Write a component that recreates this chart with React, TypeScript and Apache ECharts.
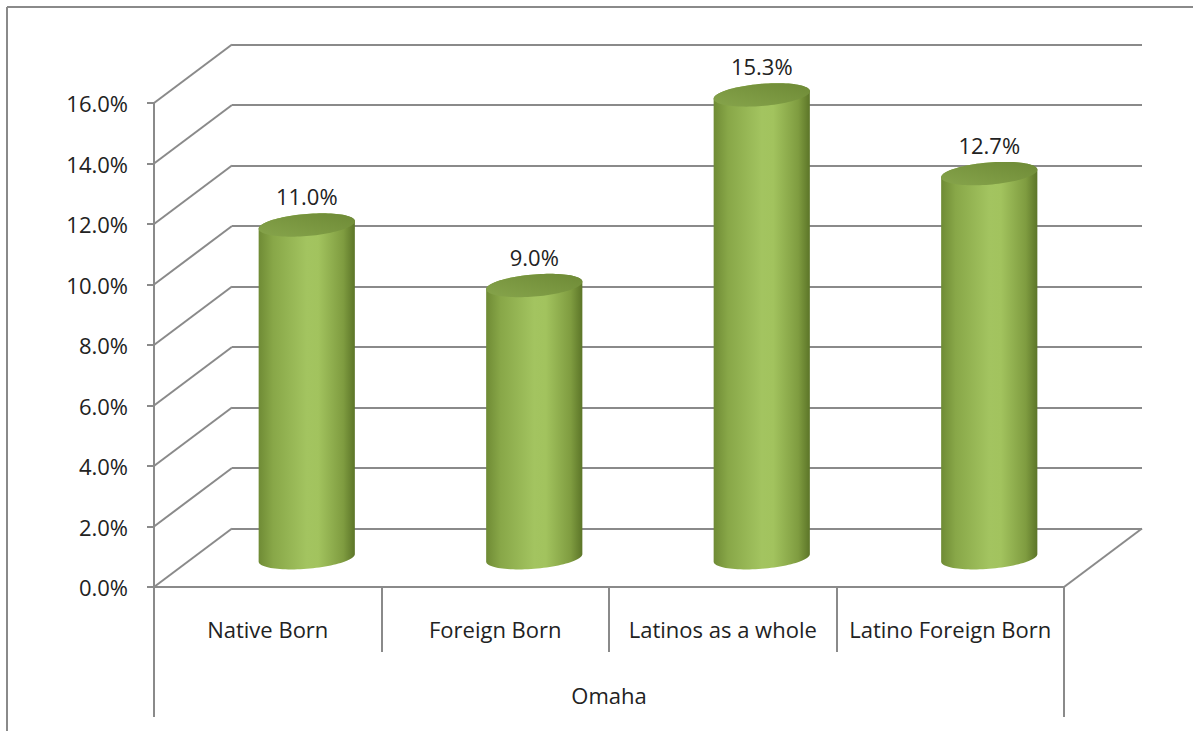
import React, { useEffect, useRef } from "react";
import * as echarts from "echarts";

const categories = ["Native Born", "Foreign Born", "Latinos as a whole", "Latino Foreign Born"];
const values = [11.0, 9.0, 15.3, 12.7];
const groupLabels = ["Omaha"];
const yMin = 0;
const yMax = 16;
const yInterval = 2;
const wallTicks = [0, 2, 4, 6, 8, 10, 12, 14, 16];

const DX = 78;
const DY = -58.5;
const LINE = "#8a8a8a";
const FONT = "Open Sans";
const TEXT = "#222222";

export default function App() {
  const ref = useRef<HTMLDivElement>(null);
  useEffect(() => {
    if (!ref.current) return;
    const chart = echarts.init(ref.current, null, { renderer: "svg" });

    const bodyGrad = () =>
      new echarts.graphic.LinearGradient(0, 0, 1, 0, [
        { offset: 0, color: "#6f8b35" },
        { offset: 0.15, color: "#88a748" },
        { offset: 0.5, color: "#a3c460" },
        { offset: 0.62, color: "#a2c35e" },
        { offset: 0.88, color: "#7f9c40" },
        { offset: 1, color: "#5c7528" },
      ]);
    const capGrad = () =>
      new echarts.graphic.LinearGradient(0, 1, 1, 0, [
        { offset: 0, color: "#86a44b" },
        { offset: 1, color: "#6e8a36" },
      ]);

    const option: any = {
      animation: false,
      backgroundColor: "#ffffff",
      grid: [
        { left: 154, right: 129, top: 103, bottom: 144 },
        { left: 154 + DX, right: 129 - DX, top: 103 + DY, bottom: 144 - DY },
      ],
      xAxis: [
        {
          type: "category",
          gridIndex: 0,
          data: categories,
          position: "bottom",
          axisLine: { show: true, lineStyle: { color: LINE, width: 2 } },
          axisTick: { show: true, length: 65, interval: 0, alignWithLabel: false, lineStyle: { color: LINE, width: 2 } },
          axisLabel: { interval: 0, margin: 31, color: TEXT, fontFamily: FONT, fontSize: 22 },
          splitLine: { show: false },
        },
        {
          type: "category",
          gridIndex: 0,
          data: groupLabels,
          position: "bottom",
          axisLine: { show: false },
          axisTick: { show: true, length: 130, interval: 0, alignWithLabel: false, lineStyle: { color: LINE, width: 2 } },
          axisLabel: { interval: 0, margin: 97, color: TEXT, fontFamily: FONT, fontSize: 22 },
          splitLine: { show: false },
        },
        {
          type: "category",
          gridIndex: 1,
          data: categories,
          show: false,
        },
      ],
      yAxis: [
        {
          type: "value",
          gridIndex: 0,
          min: yMin,
          max: yMax,
          interval: yInterval,
          axisLine: { show: true, lineStyle: { color: LINE, width: 2 } },
          axisTick: { show: true, length: 7, lineStyle: { color: LINE, width: 2 } },
          axisLabel: {
            margin: 26,
            color: TEXT,
            fontFamily: FONT,
            fontSize: 22,
            formatter: (v: number) => v.toFixed(1) + "%",
          },
          splitLine: { show: false },
        },
        {
          type: "value",
          gridIndex: 1,
          min: yMin,
          max: yMax,
          interval: yInterval,
          axisLine: { show: false },
          axisTick: { show: false },
          axisLabel: { show: false },
          splitLine: { show: true, lineStyle: { color: LINE, width: 2 } },
        },
      ],
      graphic: [
        { type: "line", shape: { x1: 7, y1: 7, x2: 1193, y2: 7 }, style: { stroke: LINE, lineWidth: 2 } },
        { type: "line", shape: { x1: 7, y1: 7, x2: 7, y2: 731 }, style: { stroke: LINE, lineWidth: 2 } },
      ],
      series: [
        {
          type: "custom",
          xAxisIndex: 0,
          yAxisIndex: 0,
          silent: true,
          data: wallTicks.map((v) => [0, v]),
          encode: { x: 0, y: 1 },
          renderItem: (params: any, api: any) => {
            const cs = params.coordSys;
            const v = api.value(1);
            const y = api.coord([0, v])[1];
            const left = cs.x;
            const children: any[] = [
              {
                type: "line",
                shape: { x1: left, y1: y, x2: left + DX, y2: y + DY },
                style: { stroke: LINE, lineWidth: 2 },
              },
            ];
            if (v === 0) {
              const right = cs.x + cs.width;
              children.push({
                type: "line",
                shape: { x1: right, y1: y, x2: right + DX, y2: y + DY },
                style: { stroke: LINE, lineWidth: 2 },
              });
            }
            return { type: "group", children };
          },
        },
        {
          type: "custom",
          xAxisIndex: 0,
          yAxisIndex: 0,
          silent: true,
          data: values.map((v, i) => [i, v]),
          encode: { x: 0, y: 1 },
          renderItem: (params: any, api: any) => {
            const idx = api.value(0);
            const val = api.value(1);
            const base = api.coord([idx, 0]);
            const top = api.coord([idx, val]);
            const band = api.size([1, 0])[0];
            const A = band * 0.2;
            const f = 0.2;
            const cx = base[0] + DX / 2;
            const cyB = base[1] + DY / 2;
            const cyT = top[1] + DY / 2;
            const pt = (cy: number, t: number) => [
              cx + A * Math.cos(t) + f * Math.sin(t) * DX,
              cy + f * Math.sin(t) * DY,
            ];
            const tr = Math.atan2(f * DX, A);
            const N = 48;
            const body: number[][] = [];
            for (let k = 0; k <= N; k++) {
              const t = tr + Math.PI + (Math.PI * k) / N;
              body.push(pt(cyB, t));
            }
            for (let k = 0; k <= N; k++) {
              const t = tr + (Math.PI * k) / N;
              body.push(pt(cyT, t));
            }
            const cap: number[][] = [];
            for (let k = 0; k < 2 * N; k++) {
              const t = (Math.PI * k) / N;
              cap.push(pt(cyT, t));
            }
            return {
              type: "group",
              children: [
                { type: "polygon", shape: { points: body }, style: { fill: bodyGrad() } },
                { type: "polygon", shape: { points: cap }, style: { fill: capGrad() } },
                {
                  type: "text",
                  style: {
                    text: val.toFixed(1) + "%",
                    x: cx,
                    y: cyT - 29,
                    align: "center",
                    verticalAlign: "middle",
                    fill: TEXT,
                    fontFamily: FONT,
                    fontSize: 22,
                  },
                },
              ],
            };
          },
        },
      ],
    };
    chart.setOption(option);
    return () => chart.dispose();
  }, []);
  return (
    <div
      ref={ref}
      style={{ position: "absolute", left: 0, top: 0, width: 1193, height: 731, background: "#fff" }}
    />
  );
}
